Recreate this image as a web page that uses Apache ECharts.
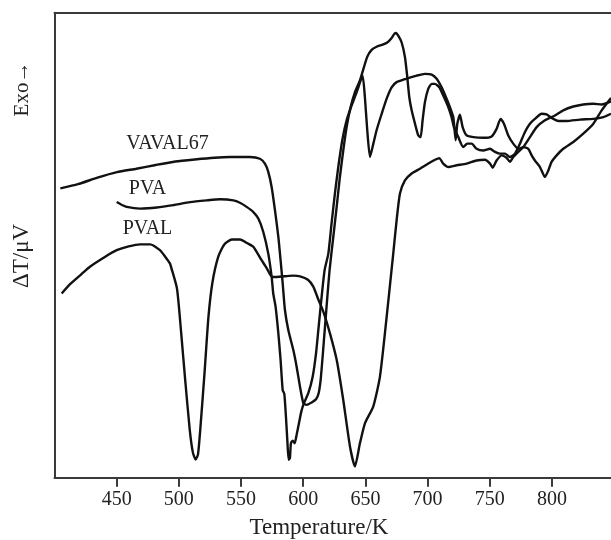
<!DOCTYPE html>
<html>
<head>
<meta charset="utf-8">
<script src="https://cdn.jsdelivr.net/npm/echarts@6/dist/echarts.min.js"></script>
<style>
  html, body { margin: 0; padding: 0; background: #fff; }
  #chart { width: 611px; height: 540px; }
</style>
</head>
<body>
<div id="chart"></div>
<script>
// temperature (K) and DTA signal (arbitrary units)
const vavalT = [404.7, 418.8, 434.5, 450.2, 465.8, 481.5, 497.2, 512.9, 528.5, 541.1, 557.2, 565.2, 569.2, 571.9, 574.6, 577.3, 580.0, 581.8, 583.5, 585.3, 588.0, 592.0, 594.7, 597.4, 600.1, 602.7, 606.8, 610.3, 612.4, 614.0, 615.6, 617.5, 619.4, 621.2, 624.2, 626.9, 629.5, 632.2, 634.9, 638.1, 641.6, 645.6, 648.8, 651.5, 655.0, 659.0, 663.9, 667.6, 670.6, 673.2, 674.6, 676.4, 679.1, 681.8, 683.7, 685.3, 687.2, 689.9, 692.5, 694.4, 696.0, 697.9, 700.6, 703.3, 705.9, 709.4, 712.6, 716.7, 719.3, 721.2, 724.7, 728.7, 731.9, 735.4, 739.4, 744.8, 750.2, 754.2, 758.2, 762.2, 766.2, 770.3, 774.3, 778.3, 782.3, 786.3, 791.7, 795.7, 799.7, 805.1, 811.8, 822.5, 833.3, 841.3, 847.5]
const vavalV = [84.2, 85.4, 87.3, 88.9, 89.9, 91.0, 92.0, 92.6, 93.1, 93.3, 93.3, 92.8, 91.4, 89.0, 84.6, 77.8, 70.1, 63.3, 56.5, 48.8, 43.0, 37.2, 32.3, 26.5, 21.7, 21.2, 21.9, 22.8, 24.6, 28.4, 35.2, 43.9, 52.6, 60.4, 70.1, 78.8, 87.5, 95.2, 102.0, 107.8, 112.2, 115.6, 119.4, 122.5, 124.5, 125.4, 126.0, 126.6, 127.7, 129.1, 129.4, 128.6, 126.7, 122.4, 116.5, 110.7, 106.9, 103.0, 99.6, 99.1, 104.0, 109.3, 113.2, 114.6, 114.6, 113.6, 111.2, 107.8, 104.9, 102.0, 99.1, 96.2, 97.2, 97.2, 95.7, 95.2, 95.7, 94.8, 94.3, 94.3, 93.3, 94.3, 97.2, 100.6, 103.0, 104.4, 105.9, 105.7, 104.7, 103.8, 103.8, 104.2, 104.4, 104.9, 105.9]

const pvaT = [450.0, 453.5, 458.1, 468.8, 482.2, 495.5, 509.0, 522.4, 533.1, 543.8, 549.1, 554.5, 559.9, 563.9, 567.9, 571.9, 574.6, 575.9, 577.8, 580.0, 581.8, 583.5, 584.8, 586.1, 587.2, 588.3, 589.3, 590.1, 591.5, 593.1, 594.7, 596.6, 598.5, 600.6, 604.1, 607.6, 610.3, 612.4, 614.8, 617.2, 620.2, 622.8, 625.5, 628.2, 631.4, 634.9, 638.9, 643.0, 646.2, 647.8, 649.6, 651.5, 653.7, 656.4, 659.0, 663.1, 667.1, 671.1, 675.1, 680.5, 685.8, 691.2, 697.9, 703.3, 707.3, 711.3, 715.3, 718.0, 720.7, 722.6, 723.9, 726.0, 728.2, 731.4, 736.8, 744.8, 751.5, 755.5, 758.7, 761.4, 764.9, 768.9, 773.0, 777.0, 781.0, 783.7, 786.3, 790.4, 794.4, 797.1, 799.7, 803.8, 809.1, 817.2, 825.2, 833.3, 840.0, 847.5]
const pvaV = [80.2, 79.5, 78.8, 78.3, 78.6, 79.3, 80.2, 80.7, 81.0, 80.7, 80.0, 78.8, 77.3, 75.4, 71.5, 65.2, 58.5, 53.6, 49.7, 42.0, 34.3, 25.5, 24.4, 17.8, 11.0, 5.2, 5.7, 10.0, 10.8, 10.0, 12.5, 15.9, 19.3, 21.7, 24.6, 29.4, 36.2, 43.9, 52.6, 60.4, 65.2, 74.0, 82.7, 90.4, 98.2, 104.0, 108.3, 112.2, 115.6, 117.0, 110.7, 101.1, 93.3, 97.2, 101.1, 105.9, 110.3, 113.6, 115.1, 115.8, 116.4, 117.0, 117.5, 117.3, 116.1, 113.6, 110.3, 107.8, 104.9, 98.2, 103.0, 105.6, 102.0, 99.6, 99.1, 98.9, 99.3, 101.5, 104.4, 103.0, 99.6, 97.2, 95.7, 96.2, 95.7, 93.8, 92.3, 90.4, 87.5, 89.4, 91.9, 93.8, 95.7, 97.7, 100.1, 103.0, 106.9, 110.5]

const pvalT = [405.8, 412.5, 421.9, 428.5, 440.8, 450.0, 459.6, 468.8, 476.9, 484.8, 489.0, 492.9, 494.0, 498.5, 501.9, 505.0, 508.8, 511.3, 513.5, 515.4, 517.6, 520.7, 523.8, 527.0, 531.7, 536.4, 542.6, 549.2, 555.2, 559.9, 566.1, 570.6, 574.0, 576.0, 584.8, 592.0, 597.5, 603.8, 608.1, 612.0, 616.3, 621.5, 626.9, 632.2, 637.6, 641.6, 645.6, 649.7, 656.3, 661.7, 667.1, 672.4, 675.1, 677.8, 681.8, 687.2, 693.9, 700.6, 706.0, 709.4, 712.6, 716.7, 723.4, 731.4, 739.4, 746.1, 750.2, 752.3, 755.5, 759.5, 763.5, 766.2, 768.9, 772.9, 777.0, 782.3, 787.7, 794.4, 802.4, 809.1, 817.2, 825.2, 833.3, 840.0, 847.5]
const pvalV = [53.6, 56.3, 59.3, 61.4, 64.3, 66.2, 67.3, 67.9, 67.9, 66.2, 64.3, 62.3, 61.0, 55.0, 42.0, 28.8, 13.8, 7.3, 5.3, 6.8, 15.8, 30.8, 46.8, 56.8, 64.3, 67.8, 69.3, 69.3, 68.2, 67.2, 63.5, 61.0, 58.8, 58.4, 58.6, 58.8, 58.6, 57.6, 55.6, 52.0, 48.2, 42.0, 34.3, 22.6, 9.1, 3.3, 10.0, 15.9, 20.7, 29.4, 46.8, 65.2, 74.9, 82.7, 86.5, 88.5, 89.9, 91.4, 92.5, 93.0, 91.4, 90.4, 90.9, 91.4, 92.3, 92.5, 91.4, 90.2, 92.3, 93.8, 93.1, 91.9, 93.3, 94.8, 96.2, 99.1, 102.0, 104.0, 105.4, 106.9, 108.0, 108.6, 108.8, 108.6, 109.5]

const tickValues = [450, 500, 550, 600, 650, 700, 750, 800]
const curveNames = ['VAVAL67', 'PVA', 'PVAL']

const zip = (xs, ys) => xs.map((x, i) => [x, ys[i]])
const curves = [zip(vavalT, vavalV), zip(pvaT, pvaV), zip(pvalT, pvalV)]

const serif = 'Liberation Serif'
const axisColor = '#3a3a3a'

const myChart = echarts.init(document.getElementById('chart'))

myChart.setOption({
    animation: false,
    grid: { left: 54.5, right: 0, top: 12.7, bottom: 62.3 },
    xAxis: [
        {
            type: 'value',
            min: 400,
            max: 847.5,
            position: 'bottom',
            axisLine: { lineStyle: { color: axisColor, width: 2 } },
            axisTick: {
                customValues: tickValues,
                length: 9,
                lineStyle: { color: axisColor, width: 2 }
            },
            axisLabel: {
                customValues: tickValues,
                margin: 12,
                color: '#222',
                fontFamily: serif,
                fontSize: 20
            },
            splitLine: { show: false }
        },
        {
            type: 'value',
            min: 400,
            max: 847.5,
            position: 'top',
            axisLine: { lineStyle: { color: axisColor, width: 2 } },
            axisTick: { show: false },
            axisLabel: { show: false },
            splitLine: { show: false }
        }
    ],
    yAxis: {
        type: 'value',
        min: 0,
        max: 135.3,
        axisLine: { show: true, lineStyle: { color: axisColor, width: 2 } },
        axisTick: { show: false },
        axisLabel: { show: false },
        splitLine: { show: false }
    },
    series: curves.map((data, i) => ({
        name: curveNames[i],
        type: 'line',
        data: data,
        showSymbol: false,
        smooth: 0.2,
        lineStyle: { color: '#111', width: 2.4 }
    })),
    graphic: [
        { type: 'text', x: 167.5, y: 144, style: { text: 'VAVAL67', font: '20px "Liberation Serif"', fill: '#222', align: 'center', verticalAlign: 'middle' } },
        { type: 'text', x: 147.5, y: 189, style: { text: 'PVA', font: '20px "Liberation Serif"', fill: '#222', align: 'center', verticalAlign: 'middle' } },
        { type: 'text', x: 147.5, y: 229, style: { text: 'PVAL', font: '20px "Liberation Serif"', fill: '#222', align: 'center', verticalAlign: 'middle' } },
        { type: 'text', x: 319, y: 528, style: { text: 'Temperature/K', font: '23px "Liberation Serif"', fill: '#222', align: 'center', verticalAlign: 'middle' } },
        { type: 'text', x: 22, y: 256, rotation: Math.PI / 2, style: { text: 'ΔT/μV', font: '23px "Liberation Serif"', fill: '#222', align: 'center', verticalAlign: 'middle' } },
        { type: 'text', x: 22, y: 89, rotation: Math.PI / 2, style: { text: 'Exo→', font: '21px "Liberation Serif"', fill: '#222', align: 'center', verticalAlign: 'middle' } }
    ]
})
</script>
</body>
</html>
